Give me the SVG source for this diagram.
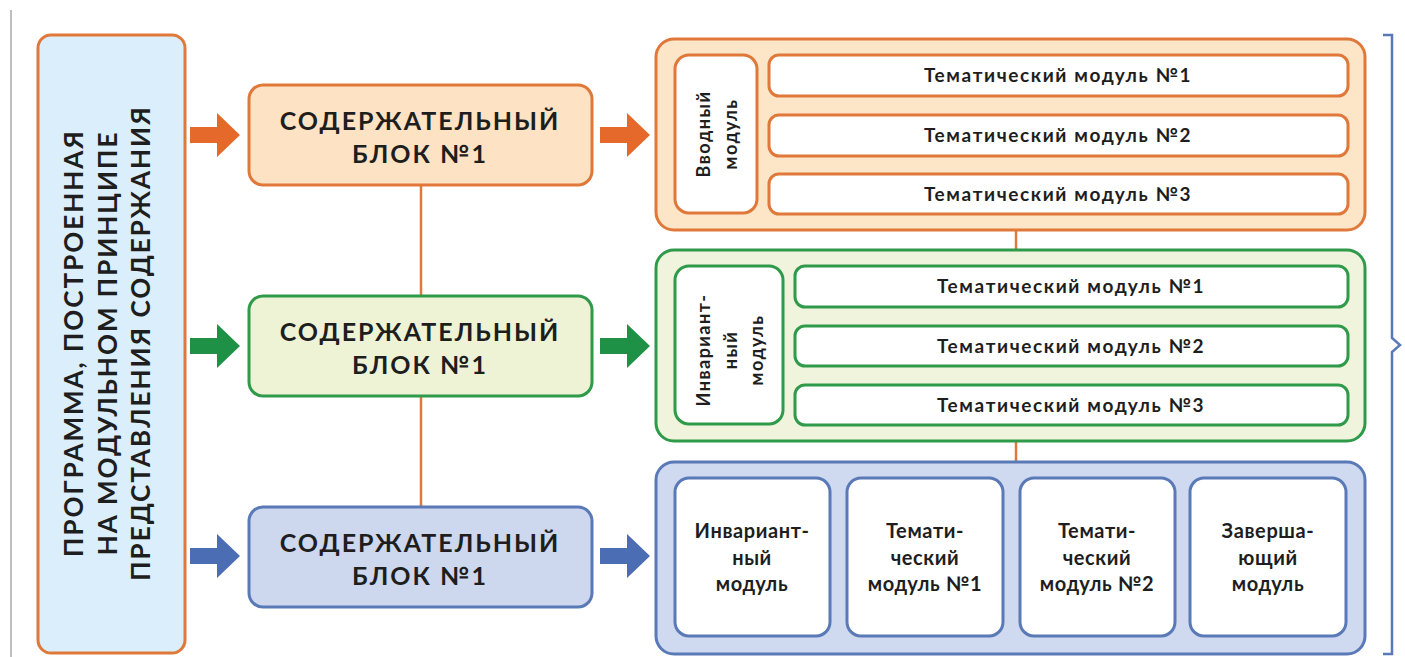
<svg xmlns="http://www.w3.org/2000/svg" width="1405" height="657" viewBox="0 0 1405 657">
<defs>
<style>
text{font-family:Lato,"Open Sans","Noto Sans",sans-serif;font-weight:700;fill:#1e1e1e;text-anchor:middle}
.big{font-size:25px;letter-spacing:2px}
.main{font-size:26px;letter-spacing:2px}
.row{font-size:19px;letter-spacing:1.6px}
.vt{font-size:18px;letter-spacing:1.5px}
.cell{font-size:20px;letter-spacing:0.6px}
.o{stroke:#e0783a;stroke-width:3}
.g{stroke:#2e9a4a;stroke-width:3}
.b{stroke:#5a79b7;stroke-width:3}
.w{fill:#fff}
</style>
<path id="arr" d="M0,-8 H27 V-22 L50,0 L27,22 V8 H0 Z"/>
</defs>
<line x1="11" y1="10" x2="11" y2="657" stroke="#aaa" stroke-width="1.5"/>

<g id="program">
<rect x="38" y="35" width="147" height="618" rx="13" fill="#dbeefb" class="o"/>
<g transform="translate(0,343) rotate(-90)">
<text class="main" x="0" y="83">ПРОГРАММА, ПОСТРОЕННАЯ</text>
<text class="main" x="0" y="117">НА МОДУЛЬНОМ ПРИНЦИПЕ</text>
<text class="main" x="0" y="150">ПРЕДСТАВЛЕНИЯ СОДЕРЖАНИЯ</text>
</g>
</g>

<g id="connectors">
<line x1="421" y1="185" x2="421" y2="296" stroke="#e0783a" stroke-width="2.5"/>
<line x1="421" y1="396" x2="421" y2="507" stroke="#e0783a" stroke-width="2.5"/>
<line x1="1016" y1="230" x2="1016" y2="250" stroke="#e0783a" stroke-width="2.5"/>
<line x1="1016" y1="441" x2="1016" y2="461" stroke="#e0783a" stroke-width="2.5"/>
<use href="#arr" x="190" y="135" fill="#e4692a"/>
<use href="#arr" x="190" y="346" fill="#1f9146"/>
<use href="#arr" x="190" y="556" fill="#4a6db3"/>
<use href="#arr" x="600" y="135" fill="#e4692a"/>
<use href="#arr" x="600" y="346" fill="#1f9146"/>
<use href="#arr" x="600" y="556" fill="#4a6db3"/>
</g>

<g id="block1">
<rect x="249" y="85" width="343" height="100" rx="14" fill="#fde2c3" class="o"/>
<text class="big" x="420" y="130">СОДЕРЖАТЕЛЬНЫЙ</text>
<text class="big" x="420" y="163">БЛОК №1</text>
</g>
<g id="block2">
<rect x="249" y="296" width="343" height="100" rx="14" fill="#eef3d6" class="g"/>
<text class="big" x="420" y="341">СОДЕРЖАТЕЛЬНЫЙ</text>
<text class="big" x="420" y="374">БЛОК №1</text>
</g>
<g id="block3">
<rect x="249" y="507" width="343" height="100" rx="14" fill="#cdd7ee" class="b"/>
<text class="big" x="420" y="552">СОДЕРЖАТЕЛЬНЫЙ</text>
<text class="big" x="420" y="585">БЛОК №1</text>
</g>

<g id="group1">
<rect x="656" y="39" width="709" height="191" rx="18" fill="#fde5c8" class="o"/>
<g id="intro">
<rect x="675" y="55" width="82" height="158" rx="14" class="w o"/>
<g transform="translate(0,134) rotate(-90)">
<text class="vt" x="0" y="710">Вводный</text>
<text class="vt" x="0" y="737">модуль</text>
</g>
</g>
<g id="t1a"><rect x="769" y="55" width="579" height="41" rx="10" class="w o"/><text class="row" x="1058" y="82">Тематический модуль №1</text></g>
<g id="t1b"><rect x="769" y="115" width="579" height="41" rx="10" class="w o"/><text class="row" x="1058" y="142">Тематический модуль №2</text></g>
<g id="t1c"><rect x="769" y="174" width="579" height="40" rx="10" class="w o"/><text class="row" x="1058" y="201">Тематический модуль №3</text></g>
</g>

<g id="group2">
<rect x="656" y="250" width="709" height="191" rx="18" fill="#f1f4dc" class="g"/>
<g id="invariant">
<rect x="675" y="266" width="108" height="158" rx="14" class="w g"/>
<g transform="translate(0,350) rotate(-90)">
<text class="vt" x="0" y="710">Инвариант-</text>
<text class="vt" x="0" y="737">ный</text>
<text class="vt" x="0" y="763">модуль</text>
</g>
</g>
<g id="t2a"><rect x="795" y="266" width="553" height="41" rx="10" class="w g"/><text class="row" x="1071" y="293">Тематический модуль №1</text></g>
<g id="t2b"><rect x="795" y="326" width="553" height="40" rx="10" class="w g"/><text class="row" x="1071" y="353">Тематический модуль №2</text></g>
<g id="t2c"><rect x="795" y="385" width="553" height="40" rx="10" class="w g"/><text class="row" x="1071" y="412">Тематический модуль №3</text></g>
</g>

<g id="group3">
<rect x="656" y="462" width="709" height="192" rx="18" fill="#cfd9ef" class="b"/>
<g id="c1"><rect x="675" y="478" width="155" height="158" rx="14" class="w b"/>
<text class="cell" x="752" y="538">Инвариант-</text><text class="cell" x="752" y="565">ный</text><text class="cell" x="752" y="591">модуль</text></g>
<g id="c2"><rect x="847" y="478" width="156" height="158" rx="14" class="w b"/>
<text class="cell" x="925" y="538">Темати-</text><text class="cell" x="925" y="565">ческий</text><text class="cell" x="925" y="591">модуль №1</text></g>
<g id="c3"><rect x="1020" y="478" width="155" height="158" rx="14" class="w b"/>
<text class="cell" x="1097" y="538">Темати-</text><text class="cell" x="1097" y="565">ческий</text><text class="cell" x="1097" y="591">модуль №2</text></g>
<g id="c4"><rect x="1190" y="478" width="156" height="158" rx="14" class="w b"/>
<text class="cell" x="1268" y="538">Заверша-</text><text class="cell" x="1268" y="565">ющий</text><text class="cell" x="1268" y="591">модуль</text></g>
</g>

<path id="brace" d="M1383,35 H1392 V338 L1400,345 L1392,352 V654 H1383" fill="none" stroke="#5a79b7" stroke-width="2.5"/>
</svg>
